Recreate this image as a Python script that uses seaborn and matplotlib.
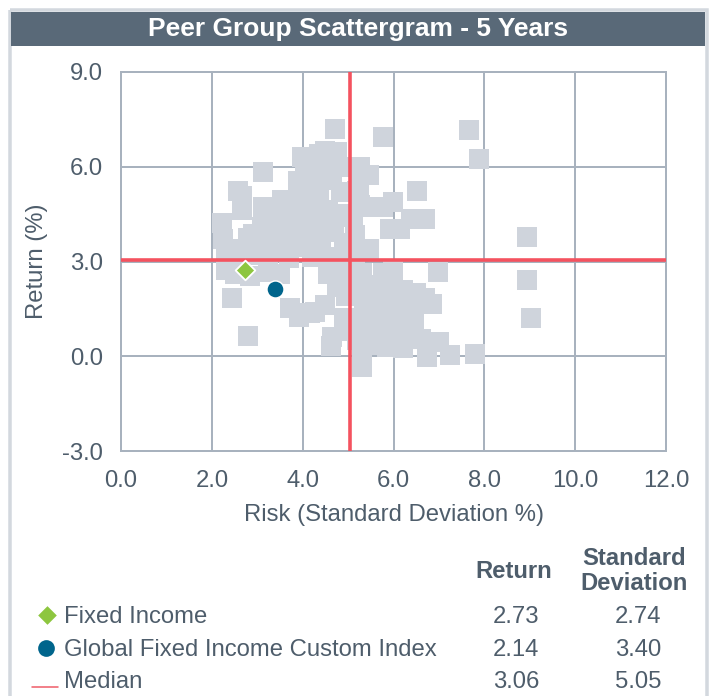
import matplotlib
matplotlib.use("Agg")
import matplotlib.pyplot as plt
import seaborn as sns
import pandas as pd
from matplotlib.patches import Rectangle

# ---------------- data ----------------
peer_risk = [
    4.71, 3.98, 4.36, 4.49, 4.76, 4.60, 4.30, 4.05, 3.13, 3.89, 2.57, 2.67, 2.66, 2.23, 3.13, 3.54,
    3.79, 4.25, 4.64, 4.76, 4.56, 4.64, 4.05, 3.54, 2.91, 2.25, 2.31, 4.40, 4.57, 3.00, 3.30, 3.60,
    3.90, 4.20, 3.40, 3.75, 4.05, 4.35, 2.90, 3.20, 3.50, 3.85, 4.15, 2.60, 4.85, 4.85, 4.70, 4.90,
    4.80, 3.95, 4.40, 4.15, 2.80, 3.10, 4.85, 4.50, 3.30, 4.25, 2.55, 3.70, 4.20,
    2.31, 2.50, 2.44, 2.79, 2.85, 3.24, 3.50, 3.72, 3.91, 4.27, 4.49, 4.64, 4.75, 4.63, 4.16, 4.80,
    4.55, 4.95, 4.90, 4.95, 4.95,
    5.77, 5.09, 5.26, 5.45, 5.19, 5.23, 5.26, 5.44, 5.77, 5.99, 6.52, 6.39, 6.70, 5.92, 6.15, 5.47,
    7.66, 7.88, 8.93, 5.10, 5.15, 5.10,
    5.31, 5.77, 5.99, 6.98, 5.35, 5.60, 5.90, 6.20, 6.50, 6.70, 6.85, 5.35, 5.78, 6.10, 6.40, 5.50,
    5.80, 6.10, 6.45, 5.34, 5.65, 6.00, 6.30, 6.60, 6.22, 6.73, 7.25, 7.79, 5.30, 7.00, 5.50, 5.85,
    5.20, 5.20, 5.20, 5.15, 5.31, 8.93, 9.02,
]
peer_return = [
    7.18, 6.31, 6.40, 6.50, 6.47, 6.15, 6.05, 5.95, 5.82, 5.55, 5.24, 5.07, 4.62, 4.21, 4.74, 4.94,
    4.94, 5.19, 5.57, 5.99, 4.62, 3.93, 4.30, 4.30, 3.86, 3.70, 3.25, 3.67, 3.14, 3.50, 3.60, 3.80,
    3.90, 4.00, 4.05, 4.50, 4.80, 5.00, 3.20, 3.30, 3.30, 3.45, 3.45, 3.40, 5.20, 4.50, 4.20, 3.60,
    3.10, 5.20, 5.60, 5.55, 3.75, 4.10, 6.00, 4.35, 4.50, 4.60, 3.05, 3.10, 3.15,
    2.72, 2.62, 1.84, 0.64, 2.55, 2.67, 2.61, 1.53, 1.24, 1.40, 1.61, 0.61, 2.19, 0.34, 1.36, 2.85,
    2.60, 1.90, 1.20, 0.80, 2.40,
    6.93, 5.99, 5.99, 5.75, 5.23, 5.36, 4.78, 4.72, 4.72, 4.87, 5.24, 4.35, 4.35, 4.02, 4.02, 3.41,
    7.16, 6.26, 3.79, 3.40, 3.85, 4.40,
    2.65, 2.65, 2.72, 2.67, 2.20, 2.25, 2.05, 2.10, 2.00, 1.85, 1.67, 1.67, 1.77, 1.60, 1.50, 1.30,
    1.30, 1.20, 1.05, 0.93, 0.90, 0.61, 0.75, 0.55, 0.27, -0.03, 0.03, 0.07, -0.34, 0.45, 0.35, 0.30,
    1.20, 0.50, 2.10, 2.70, 0.25, 2.40, 1.21,
]
fund_names = ["Fixed Income", "Global Fixed Income Custom Index"]
fund_return = [2.73, 2.14]
fund_risk = [2.74, 3.40]
median_return = 3.06
median_risk = 5.05
x_ticks = [0, 2, 4, 6, 8, 10, 12]
y_ticks = [-3, 0, 3, 6, 9]
title = "Peer Group Scattergram - 5 Years"

# ---------------- style ----------------
W, H = 716, 696
TEXT = "#4e5d6b"
GRID = "#a8b2be"
SQ = "#cfd4dc"
RED = "#f4525f"
GREEN = "#8dc63f"
BLUE = "#00658c"
TITLE_BG = "#596978"
FRAME = "#d3d8de"
PX = 0.72  # points per pixel at 100 dpi
FS = 17.2

sns.set_theme(style="white")
plt.rcParams["font.family"] = ["Liberation Sans", "DejaVu Sans"]

fig = plt.figure(figsize=(W / 100, H / 100), dpi=100)
fig.patch.set_facecolor("white")

bg = fig.add_axes([0, 0, 1, 1], zorder=0)
bg.set_xlim(0, W)
bg.set_ylim(H, 0)
bg.axis("off")
bg.add_patch(Rectangle((9.5, 9.5), W - 19, H + 50, fill=False,
                       edgecolor=FRAME, linewidth=3.5 * PX))
bg.add_patch(Rectangle((11, 12), W - 22, 34, facecolor=TITLE_BG, edgecolor="none"))
bg.text(W / 2, 29, title, color="white", fontsize=19, fontweight="bold",
        ha="center", va="center")

# ---------------- main scatter ----------------
ax = fig.add_axes([121 / W, 1 - 451 / H, (666 - 121) / W, (451 - 72) / H], zorder=1)
ax.set_facecolor("white")

peers = pd.DataFrame({"risk": peer_risk, "ret": peer_return})
sns.scatterplot(data=peers, x="risk", y="ret", marker="s", s=195, color=SQ,
                linewidth=0, ax=ax, zorder=2, legend=False)

ax.axhline(median_return, color=RED, linewidth=3.6 * PX, zorder=3)
ax.axvline(median_risk, color=RED, linewidth=3.6 * PX, zorder=3)

funds = pd.DataFrame({"name": fund_names, "risk": fund_risk, "ret": fund_return})
sns.scatterplot(data=funds.iloc[[0]], x="risk", y="ret", marker="D", s=100,
                color=GREEN, edgecolor="white", linewidth=1.3, ax=ax, zorder=4, legend=False)
sns.scatterplot(data=funds.iloc[[1]], x="risk", y="ret", marker="o", s=150,
                color=BLUE, edgecolor="white", linewidth=1.0, ax=ax, zorder=4, legend=False)

ax.set_xlim(0, 12)
ax.set_ylim(-3, 9)
ax.set_xticks(x_ticks)
ax.set_yticks(y_ticks)
ax.set_xticklabels([f"{v:.1f}" for v in x_ticks])
ax.set_yticklabels([f"{v:.1f}" for v in y_ticks])
ax.grid(True, color=GRID, linewidth=2 * PX, zorder=0)
ax.set_axisbelow(True)
for s in ax.spines.values():
    s.set_visible(True)
    s.set_color(GRID)
    s.set_linewidth(2 * PX)
ax.tick_params(axis="both", which="major", direction="out", length=10 * PX,
               width=2 * PX, color=GRID, labelcolor=TEXT, labelsize=FS)
ax.tick_params(axis="x", pad=9 * PX)
ax.tick_params(axis="y", pad=8 * PX)
ax.xaxis.get_major_ticks()[0].tick1line.set_visible(False)
ax.yaxis.get_major_ticks()[0].tick1line.set_visible(False)

ax.set_xlabel("Risk (Standard Deviation %)", fontsize=FS, color=TEXT)
ax.set_ylabel("Return (%)", fontsize=FS, color=TEXT)
ax.xaxis.set_label_coords(0.5, (451 - 515) / 379)
ax.xaxis.label.set_va("center")
ax.yaxis.set_label_coords((37 - 121) / 545, 0.5)
ax.yaxis.label.set_va("center")

# ---------------- legend table ----------------
bg.text(514, 578, "Return", color=TEXT, fontsize=FS, fontweight="bold", ha="center", va="baseline")
bg.text(634, 565, "Standard", color=TEXT, fontsize=FS, fontweight="bold", ha="center", va="baseline")
bg.text(634, 590, "Deviation", color=TEXT, fontsize=FS, fontweight="bold", ha="center", va="baseline")

row_names = fund_names + ["Median"]
row_ret = fund_return + [median_return]
row_risk = fund_risk + [median_risk]
row_base = [623, 656, 688]
for name, r, sd, yb in zip(row_names, row_ret, row_risk, row_base):
    bg.text(64, yb, name, color=TEXT, fontsize=FS, ha="left", va="baseline")
    bg.text(516, yb, f"{r:.2f}", color=TEXT, fontsize=FS, ha="center", va="baseline")
    bg.text(638, yb, f"{sd:.2f}", color=TEXT, fontsize=FS, ha="center", va="baseline")

bg.scatter([46.5], [615], marker="D", s=90, color=GREEN, linewidth=0, zorder=3)
bg.scatter([46], [648], marker="o", s=145, color=BLUE, linewidth=0, zorder=3)
bg.plot([32, 58], [687, 687], color="#f0646f", linewidth=1.6 * PX, zorder=3)

fig.savefig("out.png", dpi=100, facecolor="white")
